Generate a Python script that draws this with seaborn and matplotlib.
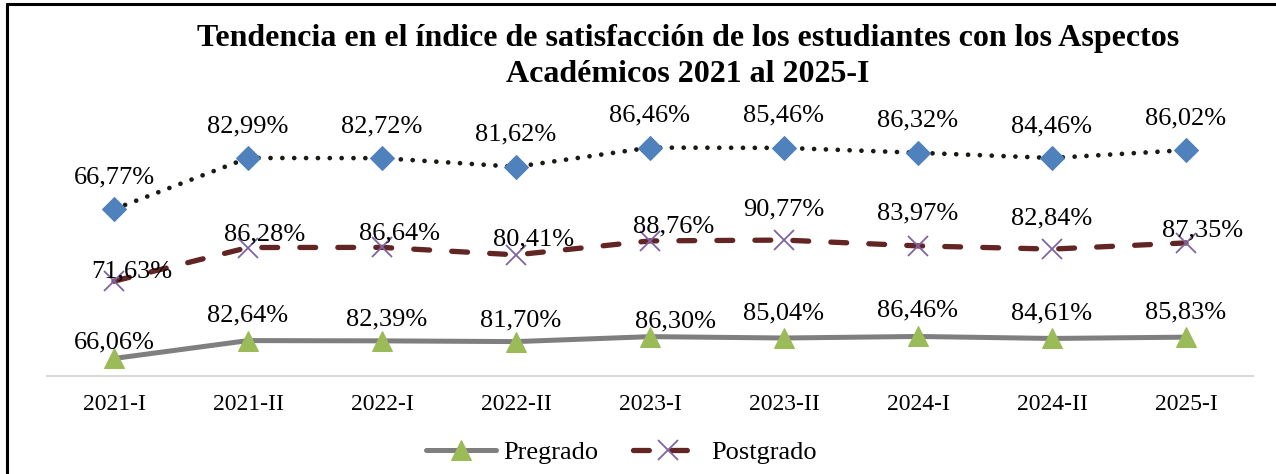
import matplotlib
matplotlib.use("Agg")
import matplotlib.pyplot as plt
from matplotlib.lines import Line2D
import numpy as np
import seaborn as sns

# data
periods = ["2021-I", "2021-II", "2022-I", "2022-II", "2023-I",
           "2023-II", "2024-I", "2024-II", "2025-I"]
pregrado = [66.06, 82.64, 82.39, 81.70, 86.30, 85.04, 86.46, 84.61, 85.83]
postgrado = [71.63, 86.28, 86.64, 80.41, 88.76, 90.77, 83.97, 82.84, 87.35]
general = [66.77, 82.99, 82.72, 81.62, 86.46, 85.46, 86.32, 84.46, 86.02]

# label nudges in pixels (dx, dy above the marker), as placed in the original
pre_dx = [0, 0, 5, 5, 25, 0, 0, 0, 0]
pre_dy = [19, 28, 24, 24, 18, 28, 29, 28, 28]
post_dx = [18, 17, 18, 18, 24, 0, 0, 0, 17]
post_dy = [13, 16, 17, 18, 17, 34, 35, 34, 15]
gen_dx = [0] * 9
gen_dy = [35] * 9

sns.set_theme(style="white")
plt.rcParams["font.family"] = ["Liberation Serif", "DejaVu Serif"]
plt.rcParams["text.color"] = "black"
plt.rcParams["xtick.color"] = "black"

W, H = 1276, 474
fig = plt.figure(figsize=(W / 100, H / 100), dpi=100)
ax = fig.add_axes([47 / W, 1 - 375.8 / H, (1253 - 47) / W, (375.8 - 106.1) / H])

# the original is an Excel stacked line chart: each series sits on top of the previous one
x = np.arange(len(periods))
s1 = np.array(pregrado)
s2 = s1 + np.array(postgrado)
s3 = s2 + np.array(general)

sns.lineplot(x=x, y=s1, ax=ax, color="#7f7f7f", linewidth=3.6, marker="^",
             markersize=14, markerfacecolor="#9bbb59", markeredgecolor="#9bbb59",
             solid_capstyle="round", label="Pregrado", zorder=3)
sns.lineplot(x=x, y=s2, ax=ax, color="#632523", linewidth=3.8,
             linestyle=(0, (3.0, 4.2)), dash_capstyle="round", marker="x",
             markersize=14, markeredgewidth=1.3, markeredgecolor="#8064a2",
             label="Postgrado", zorder=3)
sns.lineplot(x=x, y=s3, ax=ax, color="#1a1a14", linewidth=3.4,
             linestyle=(0, (0.01, 2.5)), dash_capstyle="round", marker="D",
             markersize=12, markerfacecolor="#4f81bd", markeredgecolor="#4f81bd",
             label="_nolegend_", zorder=3)

# data labels
for vals, ys, dxs, dys in [(pregrado, s1, pre_dx, pre_dy),
                           (postgrado, s2, post_dx, post_dy),
                           (general, s3, gen_dx, gen_dy)]:
    for i, (v, yv) in enumerate(zip(vals, ys)):
        ax.annotate(f"{v:.2f}%".replace(".", ","), xy=(i, yv),
                    xytext=(dxs[i], dys[i] - 9), textcoords="offset pixels",
                    ha="center", va="baseline", fontsize=19, color="black",
                    zorder=5)

ax.set_xlim(-0.5, len(periods) - 0.5)
ax.set_ylim(50, 300)
ax.set_xticks(x)
ax.set_xticklabels(periods, fontsize=17, color="black")
ax.set_yticks([])
ax.tick_params(axis="x", length=0, pad=13)
for side in ["left", "right", "top"]:
    ax.spines[side].set_visible(False)
ax.spines["bottom"].set_color("#d9d9d9")
ax.spines["bottom"].set_linewidth(1.5)
ax.set_xlabel("")
ax.set_ylabel("")
ax.grid(False)

# legend only lists the two named series
handles, labels = ax.get_legend_handles_labels()
if ax.get_legend() is not None:
    ax.get_legend().remove()
fig.legend(handles, labels, loc="center", bbox_to_anchor=(621 / W, 1 - 452 / H),
           ncol=2, frameon=False, fontsize=19, handlelength=2.65,
           handletextpad=0.3, columnspacing=1.3, labelcolor="black")

# title
fig.text(688 / W, 1 - 46 / H,
         "Tendencia en el índice de satisfacción de los estudiantes con los Aspectos",
         ha="center", va="baseline", fontsize=23, fontweight="bold", color="black")
fig.text(688 / W, 1 - 82 / H, "Académicos 2021 al 2025-I",
         ha="center", va="baseline", fontsize=23, fontweight="bold", color="black")

# frame lines on left and top edges
fig.add_artist(Line2D([7 / W, 7 / W], [0, 1 - 4 / H], transform=fig.transFigure,
                      color="black", linewidth=2.2))
fig.add_artist(Line2D([7 / W, 1], [1 - 4 / H, 1 - 4 / H], transform=fig.transFigure,
                      color="black", linewidth=2.2))

fig.savefig("out.png", dpi=100)
